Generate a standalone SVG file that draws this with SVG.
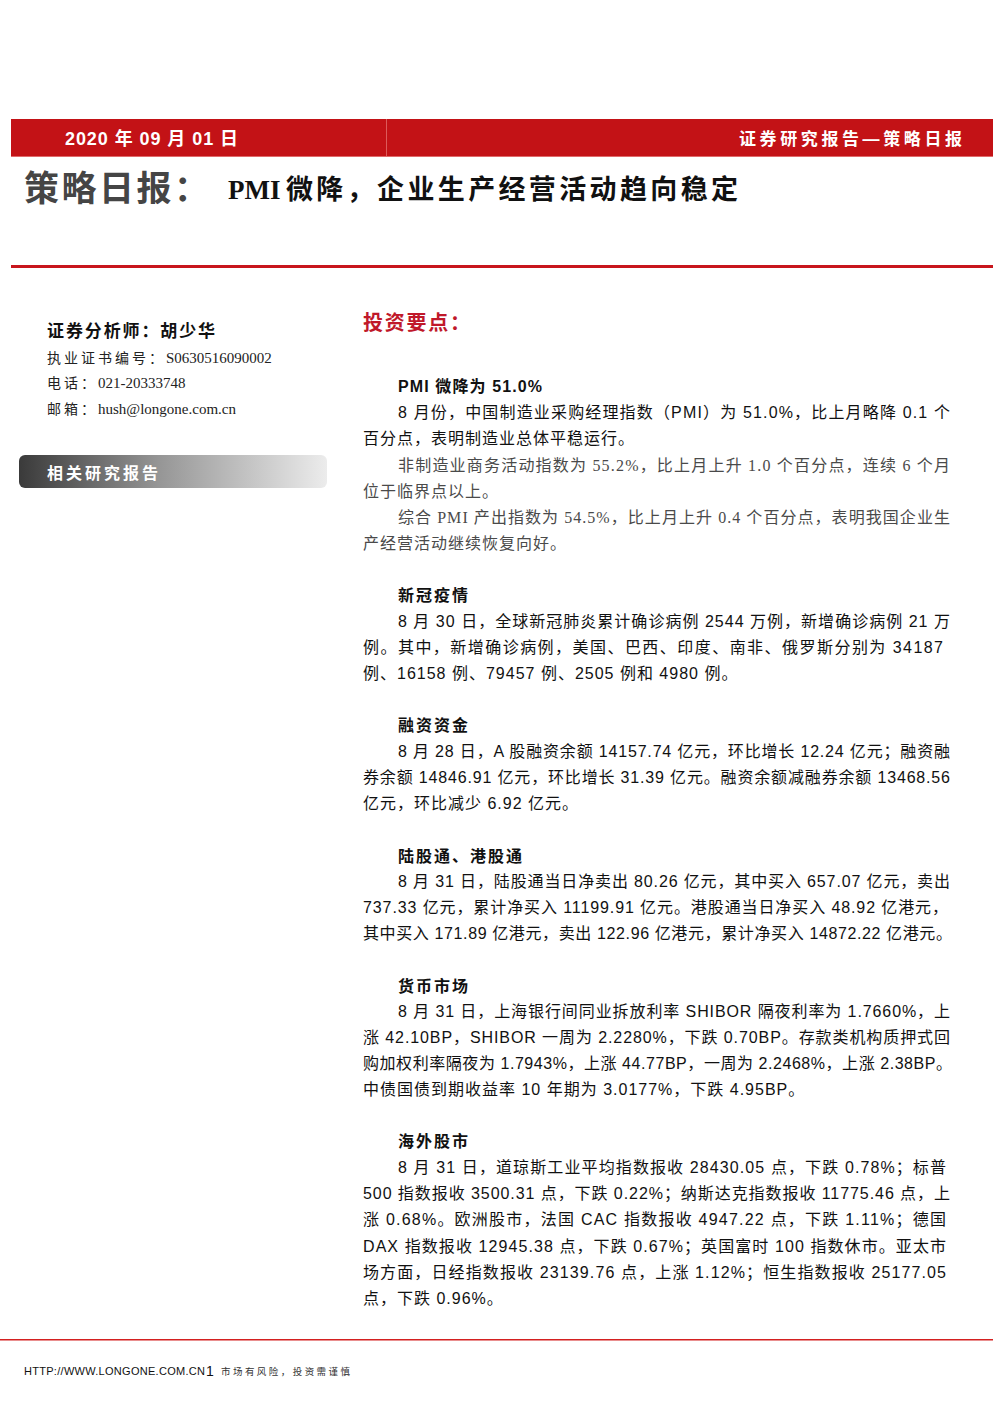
<svg xmlns="http://www.w3.org/2000/svg" width="993" height="1404" viewBox="0 0 993 1404">
<defs>
<linearGradient id="gbar" x1="0" y1="0" x2="1" y2="0">
<stop offset="0" stop-color="#3a3a3a"/>
<stop offset="0.45" stop-color="#959595"/>
<stop offset="1" stop-color="#ececec"/>
</linearGradient>
<style>
.cjk{font-family:"Liberation Sans","Noto Sans CJK SC",sans-serif;}
.ser{font-family:"Liberation Serif","Noto Sans CJK SC",serif;}
.body{font-size:16px;fill:#111;}
.gray{fill:#4a4a4a;}
.ls{letter-spacing:1px;}
.hd{font-size:16px;font-weight:bold;fill:#111;letter-spacing:2px;}
.left{font-size:14px;fill:#222;}
.lc{letter-spacing:3px;}
.ll{font-size:15px;letter-spacing:0px;}
</style>
</defs>
<rect width="993" height="1404" fill="#ffffff"/>

<g id="header">
<rect x="11" y="119" width="982" height="38" fill="#c31216"/>
<line x1="386.5" y1="119" x2="386.5" y2="157" stroke="#dc5a5a" stroke-width="1"/>
<line x1="11" y1="156.5" x2="993" y2="156.5" stroke="#e06a6a" stroke-width="1"/>
<text class="cjk" x="65" y="145" font-size="18" font-weight="bold" fill="#ffffff" textLength="173" lengthAdjust="spacing">2020 年 09 月 01 日</text>
<text class="cjk" x="739" y="145" font-size="17" font-weight="bold" fill="#ffffff" textLength="223" lengthAdjust="spacing">证券研究报告—策略日报</text>
</g>

<g id="title">
<text class="ser" x="24" y="201" font-size="35" font-weight="bold" fill="#454545" textLength="185" lengthAdjust="spacing">策略日报：</text>
<text class="ser" x="228" y="199" font-size="27" font-weight="bold" fill="#111">PMI</text>
<text class="ser" x="286" y="199" font-size="27" font-weight="bold" fill="#111" textLength="452" lengthAdjust="spacing">微降，企业生产经营活动趋向稳定</text>
<rect x="11" y="265" width="982" height="3" fill="#c8161d"/>
</g>

<g id="analyst">
<text class="ser" x="47" y="337" font-size="17" font-weight="bold" fill="#111" textLength="168" lengthAdjust="spacing">证券分析师：胡少华</text>
<text class="ser left" x="47" y="363"><tspan class="lc">执业证书编号：</tspan><tspan class="ll">S0630516090002</tspan></text>
<text class="ser left" x="47" y="388"><tspan class="lc">电话：</tspan><tspan class="ll">021-20333748</tspan></text>
<text class="ser left" x="47" y="414"><tspan class="lc">邮箱：</tspan><tspan class="ll">hush@longone.com.cn</tspan></text>
</g>

<g id="related">
<rect x="19" y="455" width="308" height="33" rx="6" fill="url(#gbar)"/>
<text class="cjk" x="47" y="479" font-size="16" font-weight="bold" fill="#ffffff" textLength="111" lengthAdjust="spacing">相关研究报告</text>
</g>

<g id="keypoints">
<text class="ser" x="363" y="330" font-size="20" font-weight="bold" fill="#c0182a" textLength="107" lengthAdjust="spacing">投资要点：</text>
</g>

<g id="pmi">
<text class="cjk" x="398" y="392" font-size="16" font-weight="bold" fill="#111" textLength="144" lengthAdjust="spacing">PMI 微降为 51.0%</text>
<text class="cjk body" x="398" y="418" textLength="552" lengthAdjust="spacing">8 月份，中国制造业采购经理指数（PMI）为 51.0%，比上月略降 0.1 个</text>
<text class="cjk body ls" x="363" y="444">百分点，表明制造业总体平稳运行。</text>
<text class="ser body gray" x="398" y="471" textLength="552" lengthAdjust="spacing">非制造业商务活动指数为 55.2%，比上月上升 1.0 个百分点，连续 6 个月</text>
<text class="ser body gray ls" x="363" y="497">位于临界点以上。</text>
<text class="ser body gray" x="398" y="523" textLength="552" lengthAdjust="spacing">综合 PMI 产出指数为 54.5%，比上月上升 0.4 个百分点，表明我国企业生</text>
<text class="ser body gray ls" x="363" y="549">产经营活动继续恢复向好。</text>
</g>

<g id="covid">
<text class="cjk hd" x="398" y="601">新冠疫情</text>
<text class="cjk body" x="398" y="627" textLength="552" lengthAdjust="spacing">8 月 30 日，全球新冠肺炎累计确诊病例 2544 万例，新增确诊病例 21 万</text>
<text class="cjk body" x="363" y="653" textLength="580" lengthAdjust="spacing">例。其中，新增确诊病例，美国、巴西、印度、南非、俄罗斯分别为 34187</text>
<text class="cjk body ls" x="363" y="679">例、16158 例、79457 例、2505 例和 4980 例。</text>
</g>

<g id="margin">
<text class="cjk hd" x="398" y="731">融资资金</text>
<text class="cjk body" x="398" y="757" textLength="552" lengthAdjust="spacing">8 月 28 日，A 股融资余额 14157.74 亿元，环比增长 12.24 亿元；融资融</text>
<text class="cjk body" x="363" y="783" textLength="587" lengthAdjust="spacing">券余额 14846.91 亿元，环比增长 31.39 亿元。融资余额减融券余额 13468.56</text>
<text class="cjk body ls" x="363" y="809">亿元，环比减少 6.92 亿元。</text>
</g>

<g id="connect">
<text class="cjk hd" x="398" y="862">陆股通、港股通</text>
<text class="cjk body" x="398" y="887" textLength="552" lengthAdjust="spacing">8 月 31 日，陆股通当日净卖出 80.26 亿元，其中买入 657.07 亿元，卖出</text>
<text class="cjk body" x="363" y="913" textLength="585" lengthAdjust="spacing">737.33 亿元，累计净买入 11199.91 亿元。港股通当日净买入 48.92 亿港元，</text>
<text class="cjk body" x="363" y="939" textLength="589" lengthAdjust="spacing">其中买入 171.89 亿港元，卖出 122.96 亿港元，累计净买入 14872.22 亿港元。</text>
</g>

<g id="money">
<text class="cjk hd" x="398" y="992">货币市场</text>
<text class="cjk body" x="398" y="1017" textLength="552" lengthAdjust="spacing">8 月 31 日，上海银行间同业拆放利率 SHIBOR 隔夜利率为 1.7660%，上</text>
<text class="cjk body" x="363" y="1043" textLength="587" lengthAdjust="spacing">涨 42.10BP，SHIBOR 一周为 2.2280%，下跌 0.70BP。存款类机构质押式回</text>
<text class="cjk body" x="363" y="1069" textLength="589" lengthAdjust="spacing">购加权利率隔夜为 1.7943%，上涨 44.77BP，一周为 2.2468%，上涨 2.38BP。</text>
<text class="cjk body ls" x="363" y="1095">中债国债到期收益率 10 年期为 3.0177%，下跌 4.95BP。</text>
</g>

<g id="overseas">
<text class="cjk hd" x="398" y="1147">海外股市</text>
<text class="cjk body" x="398" y="1173" textLength="548" lengthAdjust="spacing">8 月 31 日，道琼斯工业平均指数报收 28430.05 点，下跌 0.78%；标普</text>
<text class="cjk body" x="363" y="1199" textLength="587" lengthAdjust="spacing">500 指数报收 3500.31 点，下跌 0.22%；纳斯达克指数报收 11775.46 点，上</text>
<text class="cjk body" x="363" y="1225" textLength="583" lengthAdjust="spacing">涨 0.68%。欧洲股市，法国 CAC 指数报收 4947.22 点，下跌 1.11%；德国</text>
<text class="cjk body" x="363" y="1252" textLength="583" lengthAdjust="spacing">DAX 指数报收 12945.38 点，下跌 0.67%；英国富时 100 指数休市。亚太市</text>
<text class="cjk body" x="363" y="1278" textLength="583" lengthAdjust="spacing">场方面，日经指数报收 23139.76 点，上涨 1.12%；恒生指数报收 25177.05</text>
<text class="cjk body ls" x="363" y="1304">点，下跌 0.96%。</text>
</g>

<g id="footer">
<rect x="0" y="1339" width="993" height="1.5" fill="#d42020"/>
<text class="cjk" x="24" y="1375" font-size="11" fill="#111" textLength="181" lengthAdjust="spacing">HTTP://WWW.LONGONE.COM.CN</text>
<text class="cjk" x="206" y="1376" font-size="14" fill="#111">1</text>
<text class="cjk" x="221" y="1375" font-size="9.5" fill="#333" textLength="129" lengthAdjust="spacing">市场有风险，投资需谨慎</text>
</g>
</svg>
